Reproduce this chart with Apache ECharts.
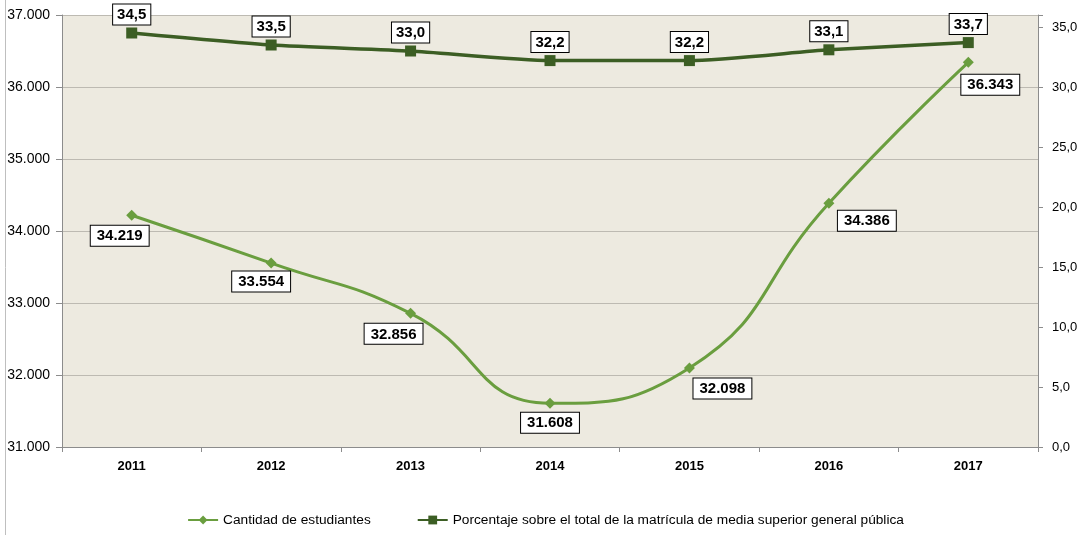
<!DOCTYPE html>
<html>
<head>
<meta charset="utf-8">
<script src="https://cdn.jsdelivr.net/npm/echarts@6/dist/echarts.min.js"></script>
<style>
  html, body { margin: 0; padding: 0; background: #fff; overflow: hidden; }
  #chart { width: 1091px; height: 535px; }
</style>
</head>
<body>
<div id="chart"></div>
<script>
const years = ['2011', '2012', '2013', '2014', '2015', '2016', '2017']
const estudiantes = [34219, 33554, 32856, 31608, 32098, 34386, 36343]
const porcentaje = [34.5, 33.5, 33.0, 32.2, 32.2, 33.1, 33.7]
// desplazamiento de etiquetas de la serie de estudiantes
const labelShift = [[-12, 0], [-10, -2], [-17, 0], [0, -1], [33, 0], [38, -3], [22, 2]]

const fmtMiles = v => String(v).replace(/\B(?=(\d{3})+(?!\d))/g, '.')
const fmtPct = v => v.toFixed(1).replace('.', ',')

const boxLabel = {
  show: true,
  fontFamily: 'Liberation Sans',
  fontWeight: 'bold',
  fontSize: 15,
  color: '#000',
  backgroundColor: '#fff',
  borderColor: '#000',
  borderWidth: 1,
  padding: [3, 6, 2, 6],
}

const chart = echarts.init(document.getElementById('chart'))
chart.setOption({
  animation: false,
  textStyle: { fontFamily: 'Liberation Sans' },
  graphic: [
    {
      type: 'line',
      shape: { x1: 5.5, y1: 0, x2: 5.5, y2: 535 },
      style: { stroke: '#bfbfbf', lineWidth: 1 },
    },
  ],
  grid: { left: 62, right: 53, top: 15, bottom: 88, backgroundColor: '#edeae0', show: true, borderWidth: 0 },
  legend: {
    bottom: 3,
    left: 'center',
    itemWidth: 30,
    itemHeight: 11,
    itemGap: 46,
    textStyle: { fontSize: 13.7, color: '#000', fontFamily: 'Liberation Sans' },
    data: ['Cantidad de estudiantes', 'Porcentaje sobre el total de la matrícula de media superior general pública'],
  },
  xAxis: {
    type: 'category',
    data: years,
    axisLine: { lineStyle: { color: '#8c8c8c' } },
    axisTick: { show: true, lineStyle: { color: '#8c8c8c' } },
    axisLabel: { fontWeight: 'bold', fontSize: 13, color: '#000', margin: 13 },
  },
  yAxis: [
    {
      type: 'value',
      min: 31000,
      max: 37000,
      interval: 1000,
      axisLine: { show: true, lineStyle: { color: '#8c8c8c' } },
      axisTick: { show: true, length: 6, lineStyle: { color: '#8c8c8c' } },
      axisLabel: { fontSize: 14, color: '#000', margin: 12, formatter: fmtMiles },
      splitLine: { lineStyle: { color: '#bdbab2', width: 1 } },
    },
    {
      type: 'value',
      min: 0,
      max: 36,
      interval: 5,
      axisLine: { show: true, lineStyle: { color: '#8c8c8c' } },
      axisTick: { show: true, length: 5, lineStyle: { color: '#8c8c8c' } },
      axisLabel: {
        fontSize: 13,
        color: '#000',
        margin: 14,
        formatter: v => (v > 35 ? '' : fmtPct(v)),
      },
      splitLine: { show: false },
    },
  ],
  series: [
    {
      name: 'Cantidad de estudiantes',
      type: 'line',
      yAxisIndex: 0,
      smooth: 0.5,
      symbol: 'diamond',
      symbolSize: 11,
      lineStyle: { color: '#6a9e3f', width: 3 },
      itemStyle: { color: '#6a9e3f' },
      data: estudiantes.map((v, i) => ({
        value: v,
        label: Object.assign({}, boxLabel, {
          position: 'bottom',
          distance: 5,
          offset: labelShift[i],
          formatter: p => fmtMiles(p.value),
        }),
      })),
    },
    {
      name: 'Porcentaje sobre el total de la matrícula de media superior general pública',
      type: 'line',
      yAxisIndex: 1,
      smooth: 0.2,
      symbol: 'rect',
      symbolSize: 11,
      lineStyle: { color: '#3c5e24', width: 3.5 },
      itemStyle: { color: '#3c5e24' },
      label: Object.assign({}, boxLabel, {
        position: 'top',
        distance: 3,
        padding: [3, 4, 2, 4],
        formatter: p => fmtPct(p.value),
      }),
      data: porcentaje,
    },
  ],
})
</script>
</body>
</html>
